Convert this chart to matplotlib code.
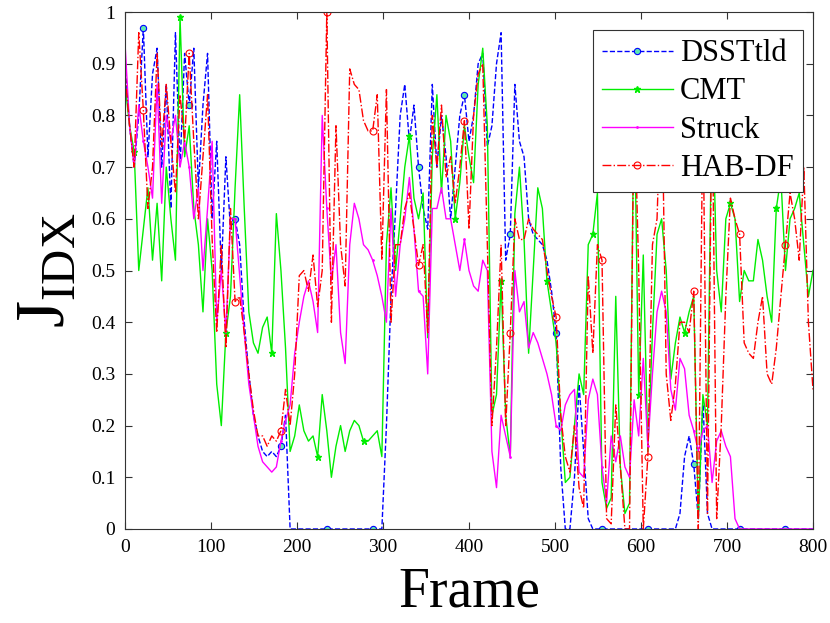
import numpy as np
import matplotlib
matplotlib.use("Agg")
import matplotlib.pyplot as plt

plt.rcParams['font.family'] = ['Liberation Serif', 'DejaVu Serif']
plt.rcParams['mathtext.fontset'] = 'custom'
plt.rcParams['mathtext.rm'] = 'Liberation Serif'

# one sample every 16/3 frames (151 samples over 0..800)
frames = np.linspace(0, 800, 151)

dsst = [0.90, 0.78, 0.70, 0.80, 0.97, 0.72, 0.88, 0.93, 0.70, 0.86,
        0.62, 0.96, 0.70, 0.92, 0.82, 0.93, 0.66, 0.82, 0.92, 0.60,
        0.75, 0.50, 0.72, 0.58, 0.60, 0.55, 0.40, 0.30, 0.22, 0.18,
        0.15, 0.14, 0.15, 0.14, 0.16, 0.22, 0.00, 0.00, 0.00, 0.00,
        0.00, 0.00, 0.00, 0.00, 0.00, 0.00, 0.00, 0.00, 0.00, 0.00,
        0.00, 0.00, 0.00, 0.00, 0.00, 0.00, 0.00, 0.20, 0.45, 0.62,
        0.80, 0.86, 0.75, 0.82, 0.70, 0.62, 0.58, 0.86, 0.70, 0.80,
        0.72, 0.60, 0.70, 0.80, 0.84, 0.75, 0.80, 0.90, 0.92, 0.74,
        0.78, 0.90, 0.96, 0.52, 0.57, 0.86, 0.75, 0.72, 0.60, 0.57,
        0.56, 0.55, 0.52, 0.46, 0.38, 0.12, 0.00, 0.00, 0.10, 0.28,
        0.15, 0.02, 0.00, 0.00, 0.00, 0.00, 0.00, 0.00, 0.00, 0.00,
        0.00, 0.00, 0.00, 0.00, 0.00, 0.00, 0.00, 0.00, 0.00, 0.00,
        0.00, 0.03, 0.14, 0.18, 0.125, 0.02, 0.25, 0.03, 0.00, 0.00,
        0.00, 0.00, 0.00, 0.00, 0.00, 0.00, 0.00, 0.00, 0.00, 0.00,
        0.00, 0.00, 0.00, 0.00, 0.00, 0.00, 0.00, 0.00, 0.00, 0.00,
        0.00]

cmt = [0.86, 0.78, 0.73, 0.50, 0.58, 0.66, 0.52, 0.63, 0.48, 0.70,
       0.60, 0.52, 0.99, 0.72, 0.78, 0.62, 0.55, 0.42, 0.60, 0.50,
       0.28, 0.20, 0.38, 0.45, 0.66, 0.84, 0.62, 0.42, 0.36, 0.34,
       0.39, 0.41, 0.34, 0.61, 0.50, 0.35, 0.15, 0.18, 0.24, 0.19,
       0.17, 0.18, 0.14, 0.26, 0.19, 0.10, 0.16, 0.20, 0.15, 0.19,
       0.21, 0.20, 0.17, 0.17, 0.18, 0.19, 0.14, 0.55, 0.66, 0.50,
       0.60, 0.70, 0.76, 0.64, 0.60, 0.65, 0.37, 0.72, 0.84, 0.65,
       0.80, 0.75, 0.60, 0.67, 0.78, 0.72, 0.67, 0.86, 0.93, 0.78,
       0.22, 0.26, 0.48, 0.22, 0.14, 0.61, 0.70, 0.56, 0.34, 0.50,
       0.66, 0.62, 0.48, 0.42, 0.36, 0.22, 0.09, 0.10, 0.20, 0.30,
       0.26, 0.55, 0.57, 0.65, 0.09, 0.04, 0.06, 0.45, 0.12, 0.03,
       0.05, 0.85, 0.26, 0.53, 0.15, 0.38, 0.57, 0.60, 0.50, 0.29,
       0.36, 0.41, 0.38, 0.42, 0.45, 0.02, 0.26, 0.20, 0.85, 0.50,
       0.42, 0.60, 0.63, 0.60, 0.44, 0.50, 0.48, 0.48, 0.56, 0.52,
       0.45, 0.40, 0.62, 0.68, 0.50, 0.60, 0.62, 0.65, 0.55, 0.45,
       0.50]

struck = [0.94, 0.78, 0.70, 0.82, 0.75, 0.70, 0.64, 0.86, 0.63, 0.80,
          0.75, 0.80, 0.70, 0.75, 0.70, 0.60, 0.66, 0.50, 0.62, 0.75,
          0.40, 0.50, 0.38, 0.60, 0.60, 0.49, 0.38, 0.28, 0.22, 0.16,
          0.13, 0.12, 0.11, 0.12, 0.17, 0.21, 0.24, 0.34, 0.40, 0.45,
          0.48, 0.44, 0.38, 0.80, 0.62, 0.48, 0.55, 0.38, 0.32, 0.55,
          0.63, 0.60, 0.55, 0.54, 0.52, 0.49, 0.45, 0.40, 0.62, 0.45,
          0.55, 0.60, 0.68, 0.58, 0.46, 0.45, 0.30, 0.62, 0.62, 0.66,
          0.60, 0.60, 0.55, 0.50, 0.56, 0.50, 0.47, 0.46, 0.52, 0.50,
          0.15, 0.08, 0.22, 0.18, 0.14, 0.50, 0.42, 0.44, 0.35, 0.38,
          0.36, 0.33, 0.30, 0.26, 0.20, 0.19, 0.24, 0.26, 0.27, 0.11,
          0.10, 0.25, 0.29, 0.26, 0.12, 0.05, 0.18, 0.13, 0.18, 0.12,
          0.10, 0.25, 0.18, 0.33, 0.16, 0.30, 0.42, 0.46, 0.42, 0.27,
          0.23, 0.33, 0.31, 0.22, 0.19, 0.15, 0.19, 0.20, 0.09, 0.17,
          0.19, 0.16, 0.14, 0.02, 0.00, 0.00, 0.00, 0.00, 0.00, 0.00,
          0.00, 0.00, 0.00, 0.00, 0.00, 0.00, 0.00, 0.00, 0.00, 0.00,
          0.00]

habdf = [0.88, 0.78, 0.70, 0.96, 0.81, 0.62, 0.70, 0.92, 0.74, 0.86,
         0.75, 0.65, 0.84, 0.75, 0.92, 0.75, 0.60, 0.72, 0.84, 0.56,
         0.38, 0.55, 0.35, 0.62, 0.44, 0.45, 0.38, 0.30, 0.23, 0.18,
         0.18, 0.16, 0.18, 0.17, 0.19, 0.27, 0.20, 0.30, 0.49, 0.50,
         0.46, 0.53, 0.43, 0.50, 1.00, 0.40, 0.78, 0.55, 0.47, 0.89,
         0.86, 0.85, 0.79, 0.77, 0.77, 0.84, 0.52, 0.85, 0.40, 0.55,
         0.55, 0.62, 0.65, 0.58, 0.51, 0.55, 0.38, 0.80, 0.70, 0.82,
         0.68, 0.72, 0.63, 0.70, 0.79, 0.58, 0.80, 0.88, 0.90, 0.55,
         0.20, 0.35, 0.55, 0.20, 0.38, 0.60, 0.56, 0.56, 0.60, 0.58,
         0.57, 0.56, 0.50, 0.45, 0.41, 0.22, 0.14, 0.11, 0.20, 0.08,
         0.04, 0.49, 0.34, 0.55, 0.52, 0.02, 0.01, 0.24, 0.12, 0.00,
         0.00, 0.85, 0.50, 0.00, 0.14, 0.55, 0.60, 0.88, 0.30, 0.21,
         0.28, 0.40, 0.40, 0.38, 0.46, 0.00, 0.82, 0.03, 0.86, 0.02,
         0.20, 0.45, 0.64, 0.60, 0.57, 0.36, 0.34, 0.33, 0.40, 0.45,
         0.30, 0.28, 0.35, 0.45, 0.55, 0.65, 0.60, 0.52, 0.70, 0.40,
         0.27]

fig = plt.figure(figsize=(8.3, 6.23), dpi=100)
ax = fig.add_axes([0.1506, 0.1509, 0.8289, 0.8298])

ax.plot(frames, dsst, '--', color='#0000ff', lw=1.0, marker='o', ms=4.5,
        mfc='#5fe8b0', mec='#0000ff', mew=0.8, markevery=(4, 10), label='DSSTtld')
ax.plot(frames, cmt, '-', color='#00ee00', lw=1.0, marker='*', ms=5,
        mfc='#00ee00', mec='#00ee00', markevery=(2, 10), label='CMT')
ax.plot(frames, struck, '-', color='#ff00ff', lw=1.0, marker='.', ms=2,
        markevery=(4, 10), label='Struck')
ax.plot(frames, habdf, '-.', color='#ff0000', lw=1.0, marker='o', ms=5,
        mfc='none', mec='#ff0000', mew=0.8, markevery=(4, 10), label='HAB-DF')

ax.set_xlim(0, 800)
ax.set_ylim(0, 1)
ax.set_xticks(np.arange(0, 801, 100))
ax.set_yticks(np.arange(0, 1.01, 0.1))
ax.set_yticklabels(['0', '0.1', '0.2', '0.3', '0.4', '0.5', '0.6', '0.7', '0.8', '0.9', '1'])
ax.tick_params(direction='in', length=5, width=0.8, top=True, right=True,
               labelsize=14, pad=7, color='#333333')
for s in ax.spines.values():
    s.set_color('#333333')
    s.set_linewidth(0.8)

ax.set_xlabel('Frame', fontsize=40, labelpad=8)
ax.set_ylabel(r'$\mathrm{J}_{\mathrm{IDX}}$', fontsize=50, labelpad=8)

leg = ax.legend(loc='upper right', bbox_to_anchor=(0.9855, 0.965), borderaxespad=0,
                fontsize=22, handlelength=2.3, handletextpad=0.25, labelspacing=0.3,
                borderpad=0.3, fancybox=False, framealpha=1, edgecolor='#333333')
leg.get_frame().set_linewidth(0.8)

plt.savefig('out.png', dpi=100)
